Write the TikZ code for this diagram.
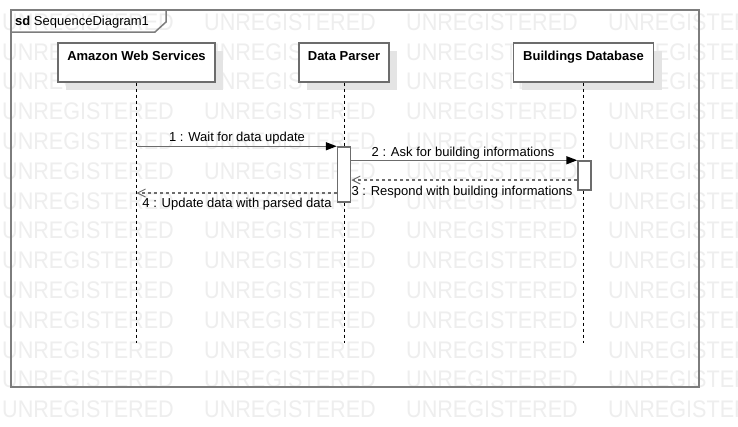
\documentclass[tikz,border=0pt]{standalone}
\usepackage{fontspec}
\setmainfont{Liberation Sans}
\usetikzlibrary{arrows.meta,shadows,calc}
\definecolor{wm}{RGB}{238,238,238}
\definecolor{shadowc}{RGB}{228,228,228}
\definecolor{ln}{RGB}{108,108,108}
\definecolor{frm}{RGB}{125,125,125}
\begin{document}
\begin{tikzpicture}[x=1pt,y=-1pt,
  wmark/.style={text=wm, font=\fontsize{24}{24}\selectfont, inner sep=0pt, anchor=west},
  framebox/.style={draw=frm, line width=2pt, inner sep=0pt, anchor=north west},
  tab/.style={draw=frm, line width=1.5pt},
  head/.style={draw=ln, line width=1.5pt, fill=white, inner xsep=0pt, inner ysep=0pt,
    text height=18pt, text depth=21pt, anchor=north,
    font=\bfseries\fontsize{13}{15}\selectfont,
    general shadow={shadow xshift=8pt, shadow yshift=-8pt, fill=shadowc}},
  life/.style={draw=black, line width=0.9pt, dash pattern=on 3pt off 3pt},
  act/.style={draw=ln, line width=1.5pt, fill=white, minimum width=13pt, inner sep=0pt},
  msg/.style={draw=ln, line width=1.5pt, -{Triangle[length=11pt,width=8pt,color=black]}},
  ret/.style={draw=ln, line width=1.2pt, dash pattern=on 3pt off 3pt,
    -{Straight Barb[length=8pt,width=8pt,line width=0.9pt]}},
  lbl/.style={font=\fontsize{13}{15}\selectfont, inner sep=0pt, anchor=base, text=black},
  title/.style={font=\fontsize{13}{15}\selectfont, inner sep=0pt, anchor=base west}
]
\useasboundingbox (0,0) rectangle (738,426);
\clip (0,0) rectangle (738,426);
\fill[white] (0,0) rectangle (738,426);
% watermark
\foreach \r in {0,...,13}{
  \foreach \c in {0,...,3}{
    \node[wmark] at ({2+202*\c},{22+29.8*\r}) {\scalebox{0.9}[1]{UNREGISTERED}};
  }
}
% frame
\node[framebox, minimum width=688pt, minimum height=377pt] (frame) at (10,9) {};
\draw[tab] ($(frame.north west)+(0,23)$) -- ($(frame.north west)+(145,23)$)
  -- ($(frame.north west)+(156,13)$) -- ($(frame.north west)+(156,0)$);
\node[title] (ttl) at (15,25) {\textbf{sd} SequenceDiagram1};
% lifeline heads
\node[head, minimum width=157pt] (aws) at (136.5,42) {Amazon Web Services};
\node[head, minimum width=90pt] (dp) at (344,42) {Data Parser};
\node[head, minimum width=140pt] (bd) at (583.5,42) {Buildings Database};
% lifelines
\coordinate (yend) at (0,343);
\draw[life] (aws.south) -- (aws.south |- yend);
\draw[life] (dp.south) -- (dp.south |- yend);
\draw[life] (bd.south) -- (bd.south |- yend);
% activations
\node[act, minimum height=55pt] (act1) at (344,174.5) {};
\node[act, minimum height=29pt] (act2) at (584.5,175.5) {};
% messages
\coordinate (y3) at (0,180);
\coordinate (y4) at (0,193);
\draw[msg] (aws.south |- act1.north) -- (act1.north west);
\draw[msg] (act1.east |- act2.north) -- (act2.north west);
\draw[ret] (act2.west |- y3) -- (act1.east |- y3);
\draw[ret] (act1.west |- y4) -- (aws.south |- y4);
% labels
\node[lbl] (l1) at (237,141) {1 : Wait for data update};
\node[lbl] (l2) at (463,156) {2 : Ask for building informations};
\node[lbl] (l3) at (462,195) {3 : Respond with building informations};
\node[lbl] (l4) at (237,207.5) {4 : Update data with parsed data};
\end{tikzpicture}
\end{document}
